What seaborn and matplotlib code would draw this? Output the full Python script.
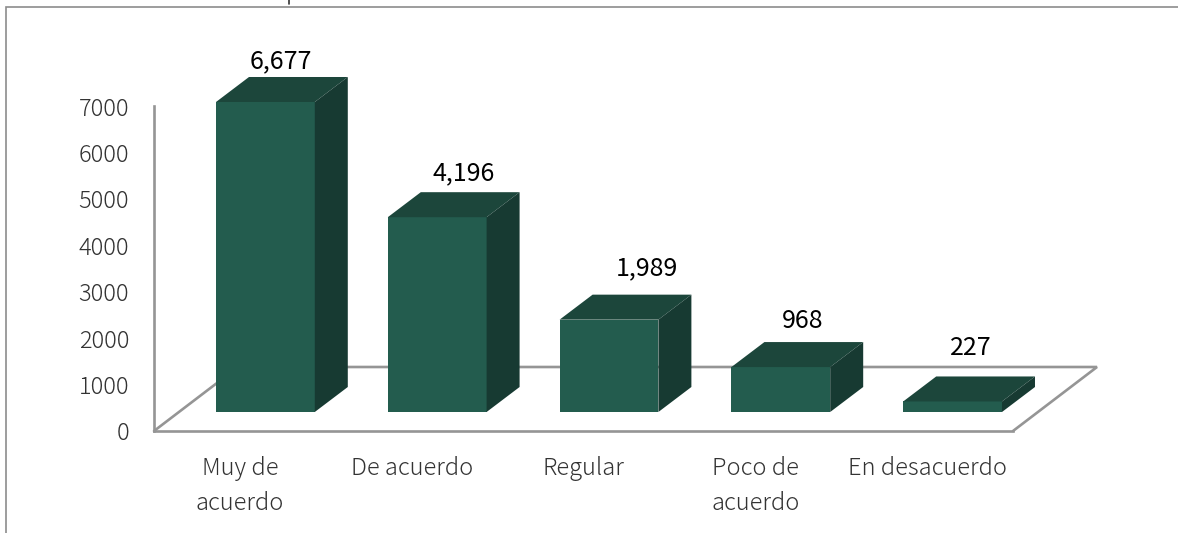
import matplotlib
matplotlib.use('Agg')
import matplotlib.pyplot as plt
from matplotlib.lines import Line2D
from matplotlib.patches import Polygon
import seaborn as sns

categories = ['Muy de\nacuerdo', 'De acuerdo', 'Regular', 'Poco de\nacuerdo', 'En desacuerdo']
values = [6677, 4196, 1989, 968, 227]
value_labels = ['6,677', '4,196', '1,989', '968', '227']
y_ticks = [0, 1000, 2000, 3000, 4000, 5000, 6000, 7000]

# colores de las caras
FRONT = '#235c4e'
TOP = '#1c463b'
SIDE = '#173a32'
GREY = '#959595'

sns.set_theme(style='white')
plt.rcParams['font.family'] = ['Noto Sans CJK JP', 'DejaVu Sans']

W, H = 1178, 533
fig = plt.figure(figsize=(W / 100, H / 100), dpi=100)
ax = fig.add_axes([154 / W, 1 - 431 / H, 859 / W, 325 / H])

sns.barplot(x=categories, y=values, color=FRONT, saturation=1, width=0.575, ax=ax, zorder=3,
            edgecolor='none', linewidth=0)
ax.set_xlim(-0.5, 4.5)
ax.set_ylim(0, 7000)

# pixeles a unidades de datos
px_x = 5 / 859
px_y = 7000 / 325

# piso
floor_dx, floor_dy = 84 * px_x, 64 * px_y
ax.plot([-0.5, -0.5 + floor_dx, 4.5 + floor_dx, 4.5], [0, floor_dy, floor_dy, 0],
        color=GREY, lw=1.9, clip_on=False, zorder=1, solid_joinstyle='miter')

# barras con efecto 3D
shift_x, shift_y = 25.5 * px_x, 19 * px_y
depth_x, depth_y = 33 * px_x, 25 * px_y
# ajuste de cada etiqueta en pixeles
label_offsets = [(15, 41), (26, 44), (38, 51), (22, 46), (18, 53)]

for bar, text, off in zip(ax.patches, value_labels, label_offsets):
    x0 = bar.get_x() + shift_x
    x1 = x0 + bar.get_width()
    y1 = shift_y + bar.get_height()
    bar.set_x(x0)
    bar.set_y(shift_y)
    bar.set_clip_on(False)
    ax.add_patch(Polygon([(x0, y1), (x1, y1), (x1 + depth_x, y1 + depth_y), (x0 + depth_x, y1 + depth_y)],
                         closed=True, fc=TOP, ec='none', zorder=3, clip_on=False))
    ax.add_patch(Polygon([(x1, shift_y), (x1 + depth_x, shift_y + depth_y), (x1 + depth_x, y1 + depth_y), (x1, y1)],
                         closed=True, fc=SIDE, ec='none', zorder=3, clip_on=False))
    ax.annotate(text, ((x0 + x1) / 2, y1), xytext=off, textcoords='offset pixels',
                ha='center', va='center', fontsize=18, color='black', annotation_clip=False)

sns.despine(ax=ax, top=True, right=True)
for side in ['left', 'bottom']:
    ax.spines[side].set_color(GREY)
    ax.spines[side].set_linewidth(1.9)

ax.set_yticks(y_ticks)
ax.tick_params(axis='y', length=0, pad=18, labelsize=17, labelcolor='#333333')
ax.tick_params(axis='x', length=0, pad=18, labelsize=17, labelcolor='#333333')
for lab in ax.get_xticklabels() + ax.get_yticklabels():
    lab.set_fontweight('light')
for lab in ax.get_xticklabels():
    lab.set_linespacing(1.5)

# marco exterior y resto del titulo recortado
fig.add_artist(Line2D([5.5 / W, 5.5 / W, 1], [0, 1 - 6.5 / H, 1 - 6.5 / H],
                      color='#8c8c8c', lw=1.2, solid_joinstyle='miter'))
fig.add_artist(Line2D([288.5 / W, 288.5 / W], [1 - 3.5 / H, 1], color='#333333', lw=1.2))

fig.savefig('out.png', dpi=100)
